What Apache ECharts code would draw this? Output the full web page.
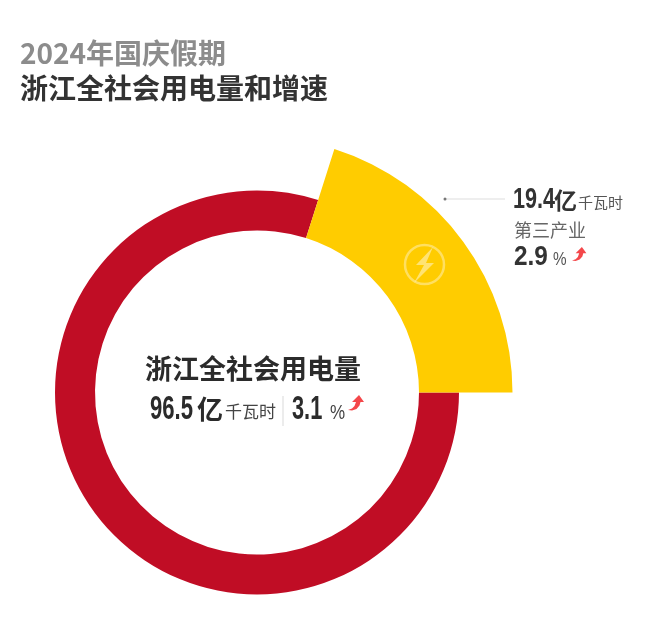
<!DOCTYPE html>
<html>
<head>
<meta charset="utf-8">
<style>
  html, body { margin: 0; padding: 0; background: #fff; }
  #chart { width: 650px; height: 632px; }
</style>
<script src="https://cdn.jsdelivr.net/npm/echarts@6/dist/echarts.min.js"></script>
</head>
<body>
<div id="chart"></div>
<script>
const titleLines = ["2024年国庆假期", "浙江全社会用电量和增速"];
const sectors = ["其他", "第三产业"];
const totalUse = 96.5;
const sectorUse = [77.1, 19.4];
const totalGrowth = 3.1;
const sectorGrowth = 2.9;
const unit = "千瓦时";
const centerTitle = "浙江全社会用电量";

const RED = "#C00D25";
const YELLOW = "#FFCC00";
const CJK = '"Noto Sans CJK SC", sans-serif';
const NUM = '"Liberation Sans", sans-serif';
const CENTER = [257, 392.5];

const label = (x, y, text, size, color, weight, family, scaleX) => ({
  type: "text",
  z: 10,
  x: x,
  y: y,
  scaleX: scaleX || 1,
  style: {
    text: text,
    fontSize: size,
    fontWeight: weight || "normal",
    fontFamily: family || CJK,
    fill: color,
    verticalAlign: "middle",
  },
});

const arrow = (x, y, s) => ({
  type: "polygon",
  z: 10,
  x: x,
  y: y,
  scaleX: s,
  scaleY: s,
  shape: {
    points: [[0, 15], [4, 13.5], [6.5, 11], [8, 7], [4, 7], [11, 0], [16, 7], [12.5, 7], [11.5, 10.5], [8.5, 14], [4, 15.5]],
  },
  style: { fill: "#F4474A" },
});

const chart = echarts.init(document.getElementById("chart"), null, { renderer: "canvas" });

chart.setOption({
  animation: false,
  backgroundColor: "#fff",
  series: [
    {
      name: "全社会用电量",
      type: "pie",
      center: CENTER,
      radius: [162, 202],
      startAngle: 0,
      silent: true,
      label: { show: false },
      data: sectors.map((name, i) => ({
        name: name,
        value: sectorUse[i],
        itemStyle: { color: i === 0 ? RED : "transparent" },
      })),
    },
    {
      name: "第三产业",
      type: "pie",
      center: CENTER,
      radius: [162, 255.5],
      startAngle: 0,
      silent: true,
      label: { show: false },
      data: sectors.map((name, i) => ({
        name: name,
        value: sectorUse[i],
        itemStyle: { color: i === 1 ? YELLOW : "transparent" },
      })),
    },
  ],
  graphic: [
    label(20, 53, titleLines[0], 28, "#8c8c8c", 700),
    label(20, 88, titleLines[1], 28, "#333333", 700),

    label(145, 369, centerTitle, 27, "#2b2b2b", 700),
    label(150, 410, totalUse.toFixed(1), 33, "#2b2b2b", 700, NUM, 0.67),
    label(197, 409, "亿", 26, "#2b2b2b", 700),
    label(225, 412, unit, 17, "#444444"),
    {
      type: "line",
      z: 10,
      shape: { x1: 283, y1: 396, x2: 283, y2: 426 },
      style: { stroke: "#d9d9d9", lineWidth: 1 },
    },
    label(292, 410, totalGrowth.toFixed(1), 33, "#2b2b2b", 700, NUM, 0.66),
    label(330, 413, "%", 20, "#444444", 400, NUM, 0.85),
    arrow(348, 395, 1),

    {
      type: "line",
      z: 10,
      shape: { x1: 445, y1: 199, x2: 505, y2: 199 },
      style: { stroke: "#dddddd", lineWidth: 1 },
    },
    { type: "circle", z: 10, shape: { cx: 445, cy: 199, r: 1.5 }, style: { fill: "#777777" } },
    label(513, 200, sectorUse[1].toFixed(1), 30, "#333333", 700, NUM, 0.72),
    label(554, 200, "亿", 23, "#333333", 700),
    label(578, 202, unit, 15, "#555555"),
    label(514, 230, sectors[1], 18, "#666666"),
    label(514, 257, sectorGrowth.toFixed(1), 28, "#333333", 700, NUM, 0.87),
    label(553, 260, "%", 18, "#555555", 400, NUM, 0.85),
    arrow(572, 247, 0.9),

    {
      type: "circle",
      z: 10,
      shape: { cx: 424.5, cy: 264.5, r: 19.5 },
      style: { fill: "none", stroke: "rgba(255,255,255,0.38)", lineWidth: 2.5 },
    },
    {
      type: "polygon",
      z: 10,
      shape: { points: [[433, 247], [416, 265], [424, 265], [414, 283], [434, 263], [426, 263]] },
      style: { fill: "rgba(255,255,255,0.45)" },
    },
  ],
});
</script>
</body>
</html>
